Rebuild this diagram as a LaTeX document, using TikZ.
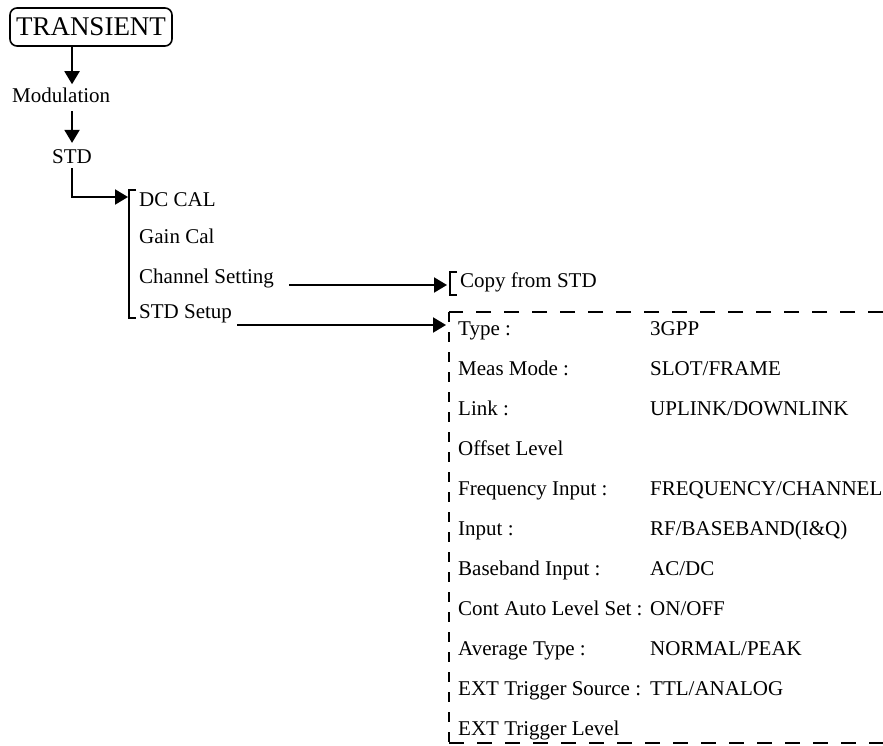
\documentclass[tikz,border=0pt]{standalone}
\usepackage{fontspec}
\setmainfont{Liberation Serif}
\usetikzlibrary{arrows.meta}
\definecolor{mnink}{HTML}{000000}
\tikzset{
  mn text/.style={font=\fontsize{21}{25}\selectfont, text=mnink},
  mn item/.style={mn text, inner xsep=0pt, inner ysep=3pt, anchor=base west},
  mn top/.style={draw=mnink, line width=1.6pt, rounded corners=7pt,
    minimum width=162pt, minimum height=38pt, inner sep=0pt,
    font=\fontsize{27}{31}\selectfont},
  mn line/.style={draw=mnink, line width=2pt},
  mn arrow/.style={mn line, -{Triangle[length=13pt,width=15pt]}},
  mn dash h/.style={mn line, dash pattern=on 15pt off 13pt},
  mn dash v/.style={mn line, dash pattern=on 10pt off 10pt}
}
\begin{document}
\begin{tikzpicture}[x=1pt, y=-1pt]
  \useasboundingbox (0,0) rectangle (883,745);
  \node[mn top] (trans) at (91,27) {TRANSIENT};
  \node[mn item] (mod) at (12,102) {Modulation};
  \node[mn item] (std) at (52,163) {STD};
  \draw[mn arrow] (trans.south -| std.north) -- (mod.north -| std.north);
  \draw[mn arrow] ([yshift=-6pt]mod.south -| std.north) -- ([yshift=3pt]std.north);
  \node[mn item] (dccal) at (139,206) {DC CAL};
  \node[mn item] (gain) at (139,243) {Gain Cal};
  \node[mn item] (chan) at (139,283) {Channel Setting};
  \node[mn item] (setup) at (139,318) {STD Setup};
  \coordinate (subin) at (128,197);
  \draw[mn arrow] ([yshift=-2pt]std.south) |- (subin);
  \draw[mn line] (136,190) -| (129,318) -- (136,318);
  \node[mn item] (copy) at (460,287) {Copy from STD};
  \coordinate (copyin) at (447,285);
  \draw[mn arrow] ([xshift=15pt,yshift=-2pt]chan.base east) -- (copyin);
  \draw[mn line] (457,272) -| (450,295) -- (457,295);
  \coordinate (setin) at (446,325);
  \draw[mn arrow] ([xshift=5pt,yshift=-7pt]setup.base east) -- (setin);
  \draw[mn dash h] (883,312) -- (449,312);
  \draw[mn dash v] (449,312) -- (449,743);
  \draw[mn dash h] (449,743) -- (883,743);
  \node[mn item] (typ) at (458,335) {Type :};
  \node[mn item] (typv) at (650,335) {3GPP};
  \node[mn item] (meas) at (458,375) {Meas Mode :};
  \node[mn item] (measv) at (650,375) {SLOT/FRAME};
  \node[mn item] (link) at (458,415) {Link :};
  \node[mn item] (linkv) at (650,415) {UPLINK/DOWNLINK};
  \node[mn item] (offs) at (458,455) {Offset Level};
  \node[mn item] (freq) at (458,495) {Frequency Input :};
  \node[mn item] (freqv) at (650,495) {FREQUENCY/CHANNEL};
  \node[mn item] (inp) at (458,535) {Input :};
  \node[mn item] (inpv) at (650,535) {RF/BASEBAND(I\&Q)};
  \node[mn item] (bb) at (458,575) {Baseband Input :};
  \node[mn item] (bbv) at (650,575) {AC/DC};
  \node[mn item] (cont) at (458,615) {Cont Auto Level Set :};
  \node[mn item] (contv) at (650,615) {ON/OFF};
  \node[mn item] (avg) at (458,655) {Average Type :};
  \node[mn item] (avgv) at (650,655) {NORMAL/PEAK};
  \node[mn item] (exts) at (458,695) {EXT Trigger Source :};
  \node[mn item] (extsv) at (650,695) {TTL/ANALOG};
  \node[mn item] (extl) at (458,735) {EXT Trigger Level};
\end{tikzpicture}
\end{document}
